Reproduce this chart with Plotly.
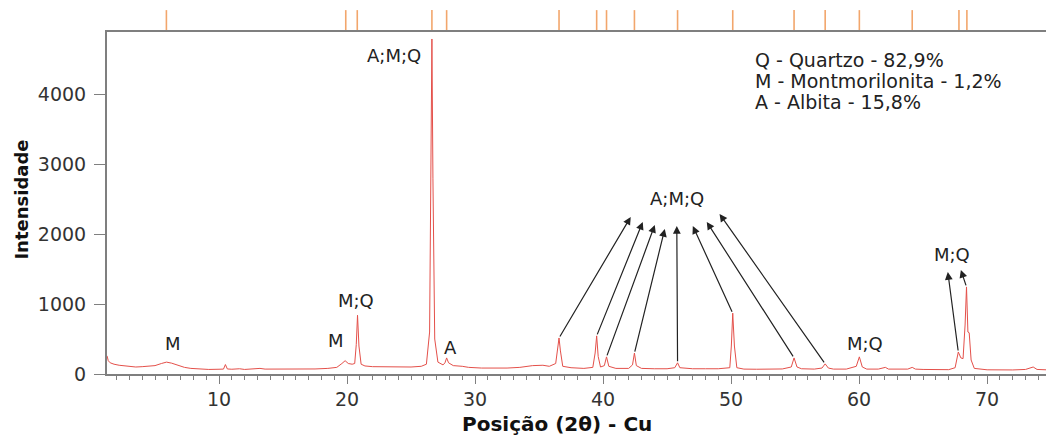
import plotly.graph_objects as go

# ---- diffractogram trace ----
two_theta = [1.25, 1.35, 1.5, 1.8, 2.2, 2.6, 3.0, 3.5, 4.0, 4.5, 5.0, 5.5, 5.9, 6.3, 6.8, 7.3, 7.8, 8.5, 9.2, 10.0,
             10.35, 10.5, 10.65, 11.0, 11.6, 12.0, 12.6, 13.2, 13.6, 14.5, 15.5, 16.5, 17.5, 18.5, 19.2, 19.6, 19.85,
             20.1, 20.4, 20.6, 20.72, 20.82, 20.93, 21.1, 21.4, 22.0, 23.0, 24.0, 25.0, 25.8, 26.2, 26.45, 26.55,
             26.63, 26.71, 26.85, 27.1, 27.5, 27.65, 27.78, 27.93, 28.3, 29.0, 29.5, 30.5, 31.5, 32.5, 33.5, 34.5,
             35.3, 35.8, 36.3, 36.45, 36.56, 36.67, 36.85, 37.5, 38.5, 39.2, 39.38, 39.5, 39.62, 39.8, 40.1, 40.27,
             40.45, 41.0, 42.0, 42.3, 42.45, 42.6, 43.0, 44.0, 45.0, 45.6, 45.82, 46.0, 47.0, 48.0, 49.0, 49.9,
             50.02, 50.13, 50.26, 50.45, 51.0, 52.0, 53.0, 54.0, 54.7, 54.92, 55.15, 55.5, 56.5, 57.1, 57.35, 57.6,
             58.0, 59.0, 59.78, 60.02, 60.25, 60.6, 61.5, 62.05, 62.3, 63.0, 63.8, 64.15, 64.4, 65.0, 66.0, 67.0,
             67.5, 67.75, 67.95, 68.12, 68.28, 68.39, 68.5, 68.6, 68.75, 69.0, 70.0, 71.0, 72.0, 73.0, 73.6, 73.9,
             74.6]
intensity = [260, 190, 160, 140, 125, 115, 110, 100, 105, 110, 120, 150, 170, 155, 120, 95, 80, 70, 65, 68,
             70, 135, 72, 68, 75, 65, 72, 80, 70, 68, 66, 70, 72, 80, 95, 150, 190,
             150, 140, 150, 420, 840, 400, 140, 115, 105, 100, 95, 100, 110, 140, 600, 2800,
             4790, 2800, 500, 170, 130, 160, 230, 160, 120, 110, 95, 85, 80, 85, 95, 120,
             125, 110, 150, 380, 515, 330, 110, 90, 80, 95, 300, 545, 250, 100, 120, 245,
             110, 80, 80, 130, 300, 120, 80, 75, 75, 90, 160, 90, 75, 75, 75, 90,
             400, 870, 400, 90, 70, 68, 70, 72, 100, 230, 100, 75, 70, 85, 145, 85,
             70, 70, 110, 245, 100, 70, 70, 95, 70, 65, 70, 95, 70, 65, 60, 62,
             90, 315, 230, 220, 700, 1245, 600, 590, 200, 80, 60, 58, 58, 65, 100, 65,
             60]

# ---- x tick labels ----
x_tick_values = [10, 20, 30, 40, 50, 60, 70]

# ---- reference pattern positions (orange marks above the plot) ----
ref_positions = [5.89, 19.9, 20.8, 26.63, 27.78, 36.56, 39.5, 40.27, 42.45, 45.82, 50.13, 54.92,
                 57.35, 60.02, 64.15, 67.8, 68.42]

# ---- peak labels ----
label_texts = ["M", "M", "M;Q", "A;M;Q", "A", "A;M;Q", "M;Q", "M;Q"]
label_x = [6.38, 19.12, 20.68, 23.65, 28.05, 45.77, 60.45, 67.25]
label_y = [443, 472, 1044, 4549, 386, 2503, 443, 1702]

# ---- arrows: tip (near label) and tail (peak top) ----
arrow_tip_x = [42.16, 43.1, 44.04, 44.82, 45.76, 47.01, 48.1, 49.1, 66.93, 67.95]
arrow_tip_y = [2246, 2175, 2132, 2074, 2117, 2117, 2175, 2289, 1459, 1488]
arrow_tail_x = [36.56, 39.5, 40.27, 42.45, 45.82, 50.13, 54.92, 57.35, 67.75, 68.39]
arrow_tail_y = [515, 545, 245, 300, 160, 870, 230, 145, 315, 1245]

legend_lines = ["Q - Quartzo - 82,9%", "M - Montmorilonita - 1,2%", "A - Albita - 15,8%"]

FONT = "DejaVu Sans"

fig = go.Figure()
fig.add_trace(go.Scatter(x=two_theta, y=intensity, mode="lines",
                         line=dict(color="#e4504a", width=1), hoverinfo="skip"))

for p in ref_positions:
    fig.add_shape(type="line", xref="x", yref="paper", x0=p, x1=p, y0=1.0, y1=1.064,
                  line=dict(color="#f2a66c", width=1.6), layer="below")

annotations = []
for v in x_tick_values:
    annotations.append(dict(text=str(v), x=v, y=-0.073, xref="x", yref="paper", showarrow=False,
                            xanchor="center", yanchor="middle",
                            font=dict(family=FONT, size=19, color="#333")))
for t, x, y in zip(label_texts, label_x, label_y):
    annotations.append(dict(text=t, x=x, y=y, xref="x", yref="y", showarrow=False,
                            font=dict(family=FONT, size=18, color="#222")))
for tx, ty, sx, sy in zip(arrow_tip_x, arrow_tip_y, arrow_tail_x, arrow_tail_y):
    annotations.append(dict(text="", x=tx, y=ty, ax=sx, ay=sy, xref="x", yref="y",
                            axref="x", ayref="y", showarrow=True, arrowhead=2,
                            arrowsize=1.3, arrowwidth=1.2, arrowcolor="#222", standoff=0))
for i, line in enumerate(legend_lines):
    annotations.append(dict(text=line, x=0.688, y=0.918 - i * 0.0615, xref="paper", yref="paper",
                            xanchor="left", yanchor="middle", showarrow=False,
                            font=dict(family=FONT, size=19, color="#222")))
annotations.append(dict(text="<b>Posição (2θ) - Cu</b>", x=(557 - 107) / 939, y=-0.145,
                        xref="paper", yref="paper", xanchor="center", yanchor="middle",
                        showarrow=False, font=dict(family=FONT, size=20, color="#111")))
annotations.append(dict(text="<b>Intensidade</b>", x=(22 - 107) / 939, y=0.51,
                        xref="paper", yref="paper", xanchor="center", yanchor="middle",
                        textangle=-90, showarrow=False,
                        font=dict(family=FONT, size=18, color="#111")))

fig.update_layout(
    width=1046, height=439,
    margin=dict(l=107, r=0, t=32, b=65),
    paper_bgcolor="white", plot_bgcolor="white",
    showlegend=False,
    annotations=annotations,
    xaxis=dict(range=[1.25, 74.6], showgrid=False, zeroline=False,
               showline=True, linecolor="#7f7f7f", linewidth=2, mirror=True,
               ticks="outside", ticklen=8, tickcolor="#7f7f7f", tickwidth=1,
               tickvals=x_tick_values, showticklabels=False,
               minor=dict(dtick=1, tick0=0, ticks="outside", ticklen=4, tickcolor="#7f7f7f",
                          showgrid=False)),
    yaxis=dict(range=[0, 4890], showgrid=False, zeroline=False,
               showline=True, linecolor="#7f7f7f", linewidth=2,
               ticks="outside", ticklen=11, tickcolor="#7f7f7f", tickwidth=1,
               dtick=1000, tick0=0, ticklabelstandoff=4,
               tickfont=dict(family=FONT, size=19, color="#333")),
)

fig.write_html("out.html", config={"displayModeBar": False},
               post_script="document.body.style.margin='0';document.body.style.overflow='hidden';")
